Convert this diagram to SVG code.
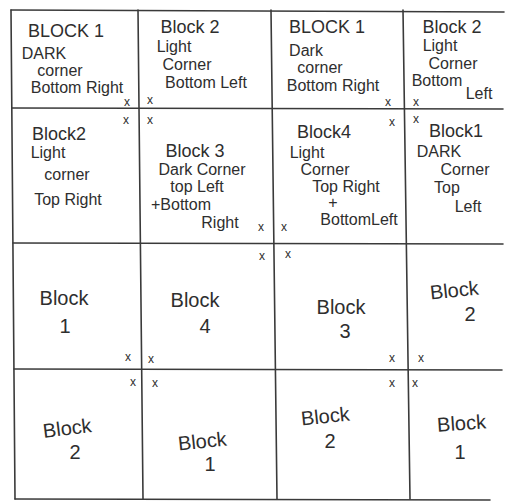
<svg xmlns="http://www.w3.org/2000/svg" width="508" height="502" viewBox="0 0 508 502">
<style>
text{font-family:"Liberation Sans","DejaVu Sans",sans-serif;fill:#2e2e2e;font-size:16px;text-anchor:middle}
.t{font-size:18px}
.b{font-size:20px}
.x{font-size:12px}
.g{stroke:#3a3a3a;stroke-width:1.6;fill:none;stroke-linecap:round}
</style>
<rect width="508" height="502" fill="#ffffff"/>
<g id="grid" class="g">
<path d="M11,10 L504,12"/>
<path d="M12,108 L503,109"/>
<path d="M13,243 L503,244"/>
<path d="M14,369 L502,370"/>
<path d="M15,499 L490,500"/>
<path d="M11,10 L15,499"/>
<path d="M138,10 L143,499"/>
<path d="M271,10 L277,499"/>
<path d="M403,10 L410,499"/>
</g>
<g id="r0c0">
<text x="66" y="37" class="t">BLOCK 1</text>
<text x="44" y="59">DARK</text>
<text x="60" y="76">corner</text>
<text x="77" y="93">Bottom Right</text>
<text x="127" y="106" class="x">x</text>
</g>
<g id="r0c1">
<text x="190" y="33" class="t">Block 2</text>
<text x="174" y="52">Light</text>
<text x="187" y="70">Corner</text>
<text x="206" y="88">Bottom Left</text>
<text x="150" y="104" class="x">x</text>
</g>
<g id="r0c2">
<text x="327" y="33" class="t">BLOCK 1</text>
<text x="306" y="56">Dark</text>
<text x="320" y="73">corner</text>
<text x="333" y="91">Bottom Right</text>
<text x="388" y="106" class="x">x</text>
</g>
<g id="r0c3">
<text x="452" y="33" class="t">Block 2</text>
<text x="440" y="51">Light</text>
<text x="453" y="69">Corner</text>
<text x="437" y="86">Bottom</text>
<text x="479" y="99">Left</text>
<text x="416" y="106" class="x">x</text>
</g>
<g id="r1c0">
<text x="126" y="124" class="x">x</text>
<text x="59" y="140" class="t">Block2</text>
<text x="48" y="158">Light</text>
<text x="67" y="180">corner</text>
<text x="68" y="205">Top Right</text>
</g>
<g id="r1c1">
<text x="150" y="124" class="x">x</text>
<text x="195" y="157" class="t">Block 3</text>
<text x="202" y="175">Dark Corner</text>
<text x="197" y="192">top Left</text>
<text x="181" y="210">+Bottom</text>
<text x="220" y="228">Right</text>
<text x="261" y="231" class="x">x</text>
</g>
<g id="r1c2">
<text x="284" y="231" class="x">x</text>
<text x="324" y="138" class="t">Block4</text>
<text x="307" y="158">Light</text>
<text x="325" y="175">Corner</text>
<text x="346" y="192">Top Right</text>
<text x="333" y="208">+</text>
<text x="359" y="225">BottomLeft</text>
<text x="392" y="126" class="x">x</text>
</g>
<g id="r1c3">
<text x="416" y="123" class="x">x</text>
<text x="456" y="137" class="t">Block1</text>
<text x="439" y="157">DARK</text>
<text x="465" y="175">Corner</text>
<text x="447" y="193">Top</text>
<text x="468" y="212">Left</text>
</g>
<g id="r2c0">
<text x="64" y="305" class="b">Block</text>
<text x="65" y="333" class="b">1</text>
<text x="128" y="361" class="x">x</text>
</g>
<g id="r2c1">
<text x="262" y="260" class="x">x</text>
<text x="195" y="307" class="b">Block</text>
<text x="205" y="333" class="b">4</text>
<text x="151" y="363" class="x">x</text>
</g>
<g id="r2c2">
<text x="288" y="258" class="x">x</text>
<text x="341" y="314" class="b">Block</text>
<text x="345" y="338" class="b">3</text>
<text x="392" y="362" class="x">x</text>
</g>
<g id="r2c3">
<text x="455" y="297" class="b" transform="rotate(-6 455 297)">Block</text>
<text x="470" y="321" class="b">2</text>
<text x="421" y="362" class="x">x</text>
</g>
<g id="r3c0">
<text x="133" y="386" class="x">x</text>
<text x="68" y="435" class="b" transform="rotate(-7 68 435)">Block</text>
<text x="75" y="459" class="b">2</text>
</g>
<g id="r3c1">
<text x="155" y="387" class="x">x</text>
<text x="203" y="448" class="b" transform="rotate(-6 203 448)">Block</text>
<text x="210" y="471" class="b">1</text>
</g>
<g id="r3c2">
<text x="392" y="387" class="x">x</text>
<text x="326" y="423" class="b" transform="rotate(-6 326 423)">Block</text>
<text x="330" y="448" class="b">2</text>
</g>
<g id="r3c3">
<text x="415" y="387" class="x">x</text>
<text x="462" y="430" class="b" transform="rotate(-4 462 430)">Block</text>
<text x="460" y="459" class="b">1</text>
</g>
</svg>
